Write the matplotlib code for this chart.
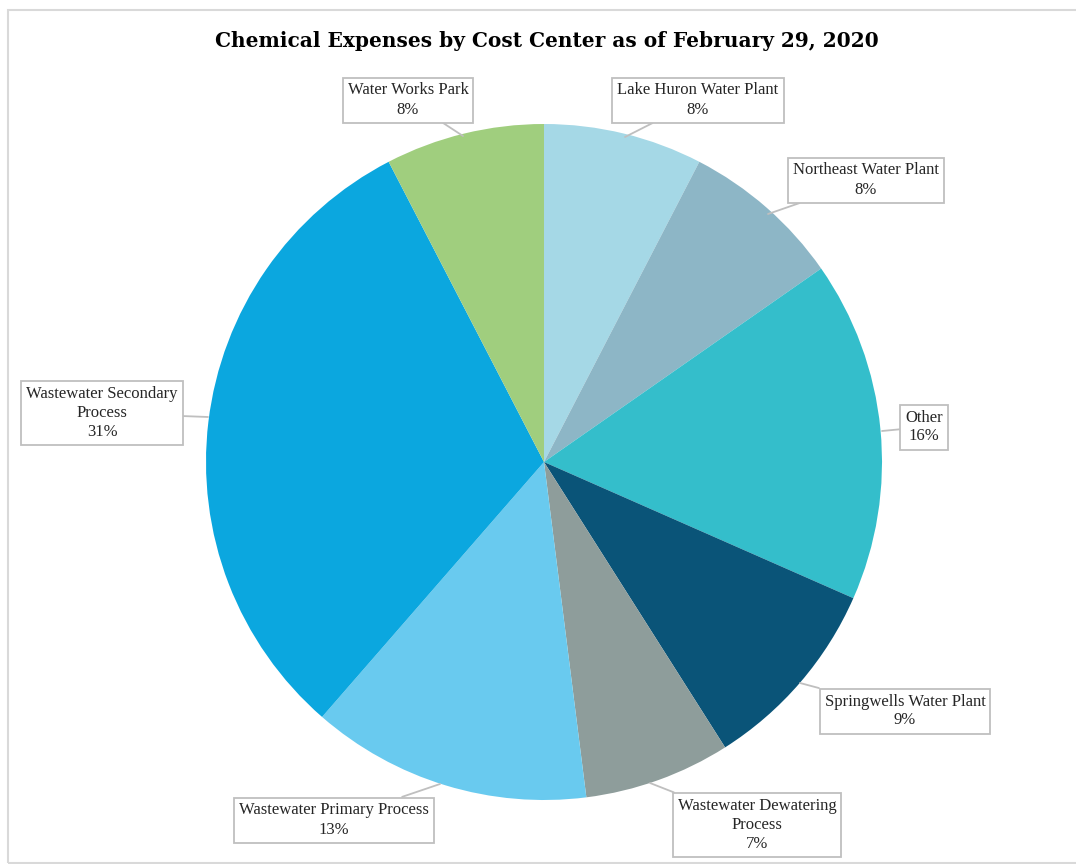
import matplotlib.pyplot as plt
from matplotlib.patches import Rectangle

# slice data, clockwise from 12 o'clock
centers = ['Lake Huron Water Plant', 'Northeast Water Plant', 'Other',
           'Springwells Water Plant', 'Wastewater Dewatering\nProcess',
           'Wastewater Primary Process', 'Wastewater Secondary\nProcess',
           'Water Works Park']
shares = [7.6, 7.7, 16.3, 9.4, 7.0, 13.4, 31.0, 7.6]
colors = ['#A5D8E6', '#8DB6C6', '#34BECB', '#0A5478',
          '#8E9D9B', '#69CAEF', '#0BA7DF', '#A0CE7E']

# callout layout (box centre, pointer tip) in pixel coords, y up
box_xy = [(698, 764), (866, 684), (924, 437), (905, 153),
          (757, 39), (334, 44), (102, 451), (408, 764)]
tip_xy = [(625, 727), (768, 650), (882, 433), (800, 181),
          (650, 81), (440, 80), (208, 447), (463, 728)]

W, H = 1076, 864
fig = plt.figure(figsize=(W / 100, H / 100), dpi=100)
ax = fig.add_axes([0, 0, 1, 1])

ax.pie(shares, colors=colors, startangle=90, counterclock=False,
       center=(544, 402), radius=338, wedgeprops=dict(linewidth=0), frame=True)

total = sum(shares)
for name, v, bxy, txy in zip(centers, shares, box_xy, tip_xy):
    txt = name + '\n' + '%d%%' % round(v / total * 100)
    ax.annotate(txt, xy=txy, xytext=bxy, ha='center', va='center',
                fontsize=12, family='Liberation Serif', color='#262626',
                linespacing=1.25,
                bbox=dict(boxstyle='square,pad=0.3', fc='white', ec='#BFBFBF', lw=1.3),
                arrowprops=dict(arrowstyle='-', color='#BFBFBF', lw=1.3,
                                shrinkA=0, shrinkB=0))

ax.text(547, 823, 'Chemical Expenses by Cost Center as of February 29, 2020',
        ha='center', va='center', fontsize=14.5, fontweight='bold',
        family='DejaVu Serif', color='black')

# chart area border
ax.add_patch(Rectangle((8, 1), W, 853, fill=False, ec='#D9D9D9', lw=1.5))

ax.set_xlim(0, W)
ax.set_ylim(0, H)
ax.set_aspect('equal')
ax.axis('off')

fig.savefig('out.png', dpi=100)
